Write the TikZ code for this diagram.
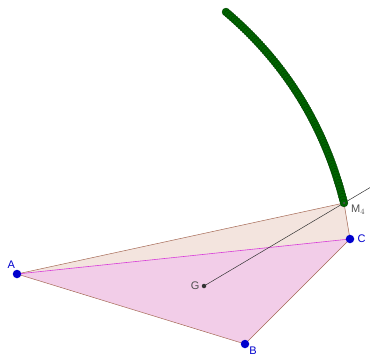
\documentclass[tikz,border=0pt]{standalone}
\usepackage{fontspec}
\setmainfont{Liberation Sans}
\usetikzlibrary{calc}
\definecolor{ptblue}{RGB}{0,0,205}
\definecolor{tracegreen}{RGB}{0,100,0}
\definecolor{tracedark}{RGB}{0,60,0}
\definecolor{sidebrown}{RGB}{165,105,85}
\definecolor{pinkfill}{RGB}{242,205,232}
\definecolor{beigefill}{RGB}{243,228,222}
\definecolor{acmagenta}{RGB}{215,60,215}
\definecolor{lblgray}{RGB}{80,80,80}

\begin{document}
\begin{tikzpicture}[
    x=1pt, y=-1pt,
    pt/.style={circle,fill=ptblue,inner sep=0pt,minimum size=8.5pt},
    gpt/.style={circle,fill=black!80,inner sep=0pt,minimum size=4.5pt},
    trace/.style={circle,fill=tracegreen,draw=tracedark,line width=0.3pt,inner sep=0pt,minimum size=8pt},
    lbl/.style={font=\fontsize{11}{13}\selectfont,text=ptblue,inner sep=1pt},
    glbl/.style={font=\fontsize{11}{13}\selectfont,text=lblgray,inner sep=1pt},
    side/.style={draw=sidebrown,line width=0.5pt}
]
\useasboundingbox (0,0) rectangle (370,356);

\coordinate (A) at (17,274);
\coordinate (B) at (245,344);
\coordinate (C) at (350,239);
\coordinate (G) at (204,286);
\coordinate (M) at (344,203);
\coordinate (start) at (226,12);
\coordinate (ctla) at (286,63);
\coordinate (ctlb) at (325,127);
\coordinate (far) at ($(G)!1.19!(M)$);

% fills
\fill[beigefill] (A) -- (M) -- (C) -- cycle;
\fill[pinkfill] (A) -- (B) -- (C) -- cycle;

% sides
\draw[side] (A) -- (M) -- (C);
\draw[side] (A) -- (B) -- (C);
\draw[acmagenta,line width=0.6pt] (A) -- (C);
\draw[black!80,line width=0.5pt] (G) -- (far);

% locus of M4
\path (start) .. controls (ctla) and (ctlb) .. (M)
    foreach \t in {0,0.0125,...,1.001} { node[trace,pos=\t] {} };
\node[circle,fill=black!70,inner sep=0pt,minimum size=2.5pt] (m4) at (M) {};
\node[glbl,anchor=west] (m4lbl) at (350,210) {M$_4$};

% points
\node[pt,label={[lbl,label distance=0pt]100:A}] (a) at (A) {};
\node[pt,label={[lbl,label distance=-1pt]-25:B}] (b) at (B) {};
\node[pt,label={[lbl,label distance=2pt]0:C}] (c) at (C) {};
\node[gpt,label={[glbl,label distance=1pt]180:G}] (g) at (G) {};
\end{tikzpicture}
\end{document}
